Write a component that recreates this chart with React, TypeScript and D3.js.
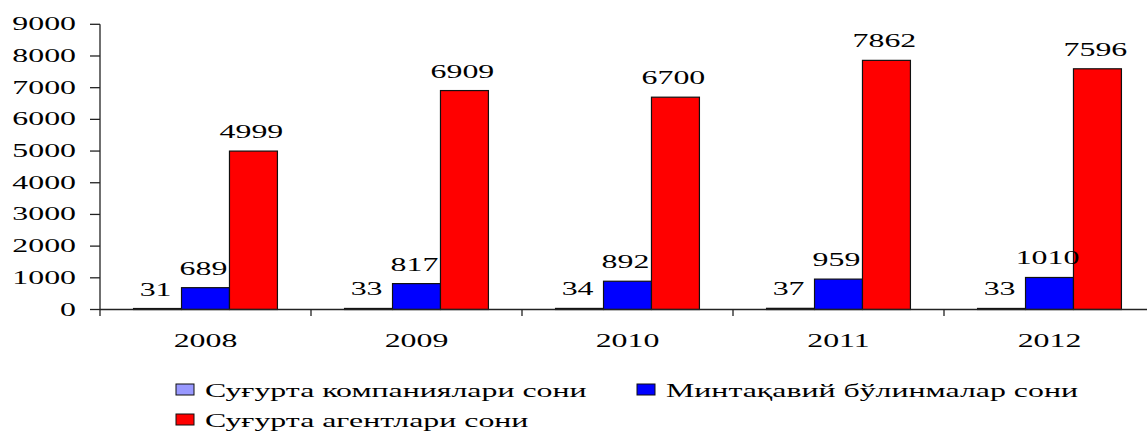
import React from 'react';
import * as d3 from 'd3';

const years = ['2008', '2009', '2010', '2011', '2012'];
const companies = [31, 33, 34, 37, 33];
const branches = [689, 817, 892, 959, 1010];
const agents = [4999, 6909, 6700, 7862, 7596];
const yTicks = [0, 1000, 2000, 3000, 4000, 5000, 6000, 7000, 8000, 9000];

const seriesNames = [
  'Суғурта компаниялари сони',
  'Минтақавий бўлинмалар сони',
  'Суғурта агентлари сони',
];
const seriesColors = ['#9999FF', '#0000FF', '#FF0000'];

const W = 1147;
const H = 431;
const FONT = '"Liberation Serif", "Times New Roman", serif';
const SX = 1.77; // the picture is stretched sideways

const App = () => {
  const series = [companies, branches, agents];

  const x0 = d3.scaleBand<string>().domain(years).range([100, 1155]);
  const x1 = d3
    .scaleBand<number>()
    .domain([0, 1, 2])
    .range([0, x0.bandwidth()])
    .paddingInner(0)
    .paddingOuter(0.7);
  const y = d3.scaleLinear().domain([0, 9000]).range([309.5, 24.3]);

  const txt = (x: number, y0: number, s: string, anchor = 'middle', key?: any) => (
    <text
      key={key}
      transform={`translate(${x},${y0}) scale(${SX},1)`}
      textAnchor={anchor}
      fontFamily={FONT}
      fontSize={18}
      fill="#000"
    >
      {s}
    </text>
  );

  const legend = [
    { i: 0, x: 176, y: 384 },
    { i: 1, x: 637, y: 384 },
    { i: 2, x: 176, y: 414 },
  ];

  return (
    <div>
      <style>{`body{margin:0}`}</style>
      <svg width={W} height={H} style={{ display: 'block', background: '#fff' }}>
        {/* bars */}
        {years.map((yr, k) =>
          series.map((vals, s) => (
            <rect
              key={`${yr}-${s}`}
              x={x0(yr)! + x1(s)!}
              y={y(vals[k])}
              width={x1.bandwidth()}
              height={y(0) - y(vals[k])}
              fill={seriesColors[s]}
              stroke="#111"
              strokeWidth={1.2}
            />
          ))
        )}

        {/* axes */}
        <line x1={100} x2={100} y1={y(9000)} y2={316} stroke="#222" strokeWidth={1.3} />
        {yTicks.map((t) => (
          <line key={`yt${t}`} x1={90} x2={100} y1={y(t)} y2={y(t)} stroke="#222" strokeWidth={1.3} />
        ))}
        <line x1={100} x2={W} y1={y(0)} y2={y(0)} stroke="#222" strokeWidth={1.3} />
        {years.map((yr) => (
          <line
            key={`xt${yr}`}
            x1={x0(yr)! + x0.bandwidth()}
            x2={x0(yr)! + x0.bandwidth()}
            y1={y(0)}
            y2={316}
            stroke="#222"
            strokeWidth={1.3}
          />
        ))}

        {/* tick labels */}
        {yTicks.map((t) => txt(76, y(t) + 6, String(t), 'end', `yl${t}`))}
        {years.map((yr) => txt(x0(yr)! + x0.bandwidth() / 2, 347, yr, 'middle', `xl${yr}`))}

        {/* value labels */}
        {years.map((yr, k) =>
          series.map((vals, s) =>
            txt(
              x0(yr)! + x1(s)! + x1.bandwidth() / 2 - 2,
              y(vals[k]) - 13,
              String(vals[k]),
              'middle',
              `vl${yr}-${s}`
            )
          )
        )}

        {/* legend */}
        {legend.map((l) => (
          <g key={`lg${l.i}`}>
            <rect x={l.x} y={l.y} width={18} height={11} fill={seriesColors[l.i]} stroke="#111" strokeWidth={1} />
            {txt(l.x + 29, l.y + 13, seriesNames[l.i], 'start')}
          </g>
        ))}
      </svg>
    </div>
  );
};

export default App;
